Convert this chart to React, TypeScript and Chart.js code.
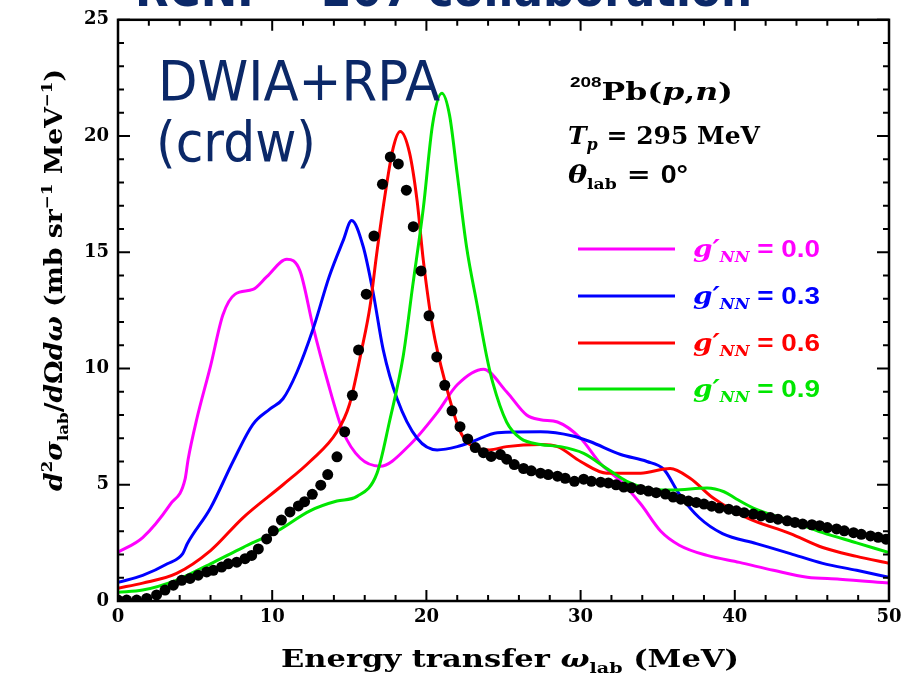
import React, { useEffect, useRef } from 'react';
import { Chart, registerables } from 'chart.js';

Chart.register(...registerables);

// ---- data ----
const g0X = [0, 1.6, 3.4, 4.35, 4.55, 5.1, 6.0, 6.8, 7.6, 8.75, 9.65, 10.95, 11.8, 12.65, 13.55, 14.6, 15.7, 17.0, 18.9, 20.7, 22.0, 23.7, 25.2, 26.5, 27.4, 28.5, 30.0, 31.3, 32.6, 33.9, 35.2, 36.4, 38.2, 40.3, 42.5, 44.7, 46.8, 50];
const g0Y = [2.1, 2.73, 4.17, 5.24, 6.1, 7.8, 10.1, 12.3, 13.2, 13.4, 13.95, 14.7, 14.2, 11.8, 9.55, 7.28, 6.15, 5.8, 6.7, 8.1, 9.3, 9.97, 9.0, 8.0, 7.8, 7.7, 7.0, 5.9, 5.15, 4.17, 3.0, 2.4, 1.96, 1.66, 1.32, 1.02, 0.94, 0.77];

const g3X = [0, 1.6, 3.2, 4.2, 4.5, 6.0, 7.46, 8.75, 9.86, 10.7, 11.6, 12.65, 13.7, 14.6, 15.15, 15.9, 16.55, 17.2, 18.1, 19.4, 20.7, 22.0, 23.0, 24.6, 27.4, 29.5, 30.6, 32.6, 34.3, 35.4, 36.4, 37.7, 39.2, 41.4, 43.6, 45.7, 47.9, 50];
const g3Y = [0.8, 1.1, 1.6, 2.04, 2.47, 4.0, 6.0, 7.6, 8.26, 8.7, 9.84, 11.7, 13.96, 15.5, 16.37, 15.25, 13.25, 10.8, 8.7, 7.0, 6.5, 6.64, 6.86, 7.24, 7.28, 7.1, 6.86, 6.3, 6.0, 5.66, 4.6, 3.58, 2.9, 2.47, 2.04, 1.62, 1.32, 1.02];

const g6X = [0, 1.6, 3.8, 6.0, 8.1, 10.7, 12.45, 14.2, 15.0, 15.8, 16.35, 16.75, 17.2, 17.85, 18.3, 18.9, 19.4, 19.8, 20.4, 21.3, 22.2, 23.3, 24.1, 25.2, 27.4, 28.5, 30.0, 31.7, 33.9, 35.8, 37.1, 38.6, 40.8, 43.6, 45.7, 47.9, 50];
const g6Y = [0.55, 0.77, 1.19, 2.17, 3.58, 5.0, 6.0, 7.28, 8.43, 10.8, 12.7, 14.8, 16.95, 19.5, 20.2, 19.3, 17.2, 14.65, 11.8, 9.2, 7.28, 6.56, 6.5, 6.64, 6.73, 6.64, 6.0, 5.5, 5.5, 5.7, 5.28, 4.43, 3.58, 2.9, 2.3, 1.92, 1.62];

const g9X = [0, 1.6, 3.8, 6.0, 8.1, 10.3, 12.45, 14.2, 15.5, 16.8, 17.6, 18.5, 19.1, 19.8, 20.4, 21.0, 21.5, 22.0, 22.6, 23.3, 23.9, 24.3, 25.2, 26.1, 27.4, 28.7, 30.2, 31.7, 33.0, 34.7, 36.0, 38.2, 39.3, 40.1, 41.2, 43.6, 45.7, 47.9, 50];
const g9Y = [0.38, 0.47, 0.9, 1.6, 2.3, 3.0, 3.88, 4.3, 4.5, 5.5, 7.7, 10.55, 13.5, 16.9, 20.5, 21.84, 20.9, 18.36, 15.25, 12.7, 10.55, 9.4, 7.7, 7.0, 6.73, 6.64, 6.35, 5.7, 5.15, 4.8, 4.77, 4.86, 4.7, 4.39, 4.0, 3.45, 2.94, 2.5, 2.08];

const expX = [0.0, 0.56, 1.21, 1.86, 2.5, 3.05, 3.59, 4.13, 4.67, 5.2, 5.75, 6.18, 6.72, 7.15, 7.7, 8.24, 8.67, 9.1, 9.64, 10.07, 10.6, 11.15, 11.7, 12.1, 12.6, 13.15, 13.6, 14.2, 14.7, 15.2, 15.6, 16.1, 16.6, 17.15, 17.66, 18.18, 18.7, 19.15, 19.65, 20.17, 20.67, 21.19, 21.66, 22.18, 22.68, 23.17, 23.7, 24.2, 24.8, 25.2, 25.7, 26.3, 26.8, 27.4, 27.9, 28.5, 29.0, 29.6, 30.2, 30.7, 31.3, 31.8, 32.3, 32.8, 33.3, 33.9, 34.4, 34.9, 35.5, 36.0, 36.5, 37.0, 37.5, 38.0, 38.5, 39.0, 39.6, 40.1, 40.6, 41.2, 41.7, 42.3, 42.8, 43.4, 43.9, 44.4, 45.0, 45.5, 46.0, 46.6, 47.1, 47.7, 48.2, 48.8, 49.3, 49.8];
const expY = [0.04, 0.04, 0.04, 0.11, 0.26, 0.47, 0.68, 0.89, 0.97, 1.11, 1.25, 1.32, 1.46, 1.6, 1.67, 1.82, 1.96, 2.24, 2.67, 3.02, 3.48, 3.83, 4.09, 4.27, 4.59, 4.98, 5.44, 6.2, 7.28, 8.85, 10.8, 13.2, 15.7, 17.93, 19.1, 18.8, 17.67, 16.1, 14.2, 12.27, 10.5, 9.28, 8.18, 7.5, 6.97, 6.6, 6.38, 6.22, 6.3, 6.1, 5.87, 5.7, 5.6, 5.5, 5.44, 5.37, 5.28, 5.15, 5.24, 5.15, 5.11, 5.08, 5.0, 4.9, 4.87, 4.8, 4.73, 4.66, 4.6, 4.47, 4.38, 4.3, 4.24, 4.17, 4.08, 4.0, 3.95, 3.88, 3.8, 3.74, 3.66, 3.59, 3.52, 3.45, 3.38, 3.31, 3.28, 3.24, 3.16, 3.1, 3.02, 2.94, 2.87, 2.8, 2.74, 2.66];

const seriesLabels = ['0.0', '0.3', '0.6', '0.9'];
const seriesColors = ['#ff00ff', '#0000ff', '#ff0000', '#00e600'];

const X_MIN = 0, X_MAX = 50, X_MAJOR = 10, X_MINOR = 2;
const Y_MIN = 0, Y_MAX = 25, Y_MAJOR = 5, Y_MINOR = 1;

const NAVY = '#0b2868';
const SERIF = '"DejaVu Serif", serif';
const SANS = '"Liberation Sans", Arial, sans-serif';

const pts = (xs: number[], ys: number[]) => xs.map((x, i) => ({ x, y: ys[i] }));

type Seg = { t: string; f: string; dy?: number; c?: string };

function richWidth(ctx: CanvasRenderingContext2D, segs: Seg[]) {
  let w = 0;
  for (const s of segs) { ctx.font = s.f; w += ctx.measureText(s.t).width; }
  return w;
}

function drawRich(ctx: CanvasRenderingContext2D, segs: Seg[], x: number, y: number, color: string, align: 'left' | 'center' = 'left', targetW?: number) {
  const w = richWidth(ctx, segs);
  const sx = targetW ? targetW / w : 1;
  ctx.save();
  ctx.translate(x, y);
  ctx.scale(sx, 1);
  let cx = align === 'center' ? -w / 2 : 0;
  ctx.textBaseline = 'alphabetic';
  ctx.textAlign = 'left';
  for (const s of segs) {
    ctx.font = s.f;
    ctx.fillStyle = s.c || color;
    ctx.fillText(s.t, cx, s.dy || 0);
    cx += ctx.measureText(s.t).width;
  }
  ctx.restore();
}

const decorPlugin = {
  id: 'decor',
  afterDraw(chart: any) {
    const ctx: CanvasRenderingContext2D = chart.ctx;
    const { left, right, top, bottom } = chart.chartArea;
    const xs = chart.scales.x;
    const ys = chart.scales.y;
    ctx.save();
    // frame
    ctx.strokeStyle = '#000';
    ctx.lineWidth = 2.5;
    ctx.strokeRect(left, top, right - left, bottom - top);
    // inward ticks
    ctx.lineWidth = 2;
    ctx.beginPath();
    for (let v = X_MIN; v <= X_MAX + 1e-9; v += X_MINOR) {
      const px = xs.getPixelForValue(v);
      const len = Math.abs(v % X_MAJOR) < 1e-9 ? 11 : 6;
      ctx.moveTo(px, bottom); ctx.lineTo(px, bottom - len);
      ctx.moveTo(px, top); ctx.lineTo(px, top + len);
    }
    for (let v = Y_MIN; v <= Y_MAX + 1e-9; v += Y_MINOR) {
      const py = ys.getPixelForValue(v);
      const len = Math.abs(v % Y_MAJOR) < 1e-9 ? 12 : 6;
      ctx.moveTo(left, py); ctx.lineTo(left + len, py);
      ctx.moveTo(right, py); ctx.lineTo(right - len, py);
    }
    ctx.stroke();

    // x axis title
    const B = (s: number) => `bold ${s}px ${SERIF}`;
    const BI = (s: number) => `italic bold ${s}px ${SERIF}`;
    drawRich(ctx, [
      { t: 'Energy transfer ', f: B(24) },
      { t: 'ω', f: BI(24) },
      { t: 'lab', f: B(15), dy: 6 },
      { t: ' (MeV)', f: B(24) },
    ], 510, 667, '#000', 'center', 458);

    // y axis title
    ctx.save();
    ctx.translate(62, 280);
    ctx.rotate(-Math.PI / 2);
    drawRich(ctx, [
      { t: 'd', f: BI(24) },
      { t: '2', f: B(15), dy: -10 },
      { t: 'σ', f: BI(24) },
      { t: 'lab', f: B(15), dy: 6 },
      { t: '/', f: B(24) },
      { t: 'd', f: BI(24) },
      { t: 'Ω', f: B(24) },
      { t: 'dω', f: BI(24) },
      { t: ' (mb sr', f: B(24) },
      { t: '−1', f: B(15), dy: -10 },
      { t: ' MeV', f: B(24) },
      { t: '−1', f: B(15), dy: -10 },
      { t: ')', f: B(24) },
    ], 0, 0, '#000', 'center', 422);
    ctx.restore();

    // annotation block
    drawRich(ctx, [
      { t: '208', f: `bold 15px ${SANS}`, dy: -13 },
      { t: 'Pb(', f: B(25) },
      { t: 'p', f: BI(25) },
      { t: ',', f: B(25) },
      { t: 'n', f: BI(25) },
      { t: ')', f: B(25) },
    ], 570, 100, '#000', 'left', 163);
    drawRich(ctx, [
      { t: 'T', f: BI(25) },
      { t: 'p', f: BI(16), dy: 6 },
      { t: ' = 295 MeV', f: B(25) },
    ], 568, 144, '#000', 'left', 192);
    drawRich(ctx, [
      { t: 'θ', f: BI(25) },
      { t: 'lab', f: B(15), dy: 6 },
      { t: ' = ', f: B(25) },
      { t: '0°', f: `bold 25px ${SANS}` },
    ], 568, 183, '#000', 'left', 120);

    // legend
    const legendY = [249, 296, 343, 389];
    seriesLabels.forEach((lab, i) => {
      const y = legendY[i];
      ctx.strokeStyle = seriesColors[i];
      ctx.lineWidth = 3;
      ctx.beginPath();
      ctx.moveTo(578, y); ctx.lineTo(675, y);
      ctx.stroke();
      drawRich(ctx, [
        { t: "g′", f: BI(24) },
        { t: 'NN', f: BI(14), dy: 5 },
        { t: ' = ' + lab, f: `bold 24px ${SANS}` },
      ], 693, y + 8, seriesColors[i], 'left', 127);
    });

    // big navy texts
    ctx.fillStyle = NAVY;
    ctx.textAlign = 'left';
    ctx.textBaseline = 'alphabetic';
    ctx.font = `55px "DejaVu Sans", sans-serif`;
    ctx.fillText('DWIA+RPA', 158, 100, 282);
    ctx.fillText('(crdw)', 156, 161, 160);
    ctx.font = `bold 48px "DejaVu Sans", sans-serif`;
    ctx.fillText('RCNP – 207 collaboration', 135, 6, 617);
    ctx.restore();
  },
};

export default function App() {
  const ref = useRef<HTMLCanvasElement>(null);
  useEffect(() => {
    document.body.style.margin = '0';
    const canvas = ref.current!;
    const lineDs = (xs: number[], ys: number[], i: number, order: number) => ({
      label: seriesLabels[i],
      data: pts(xs, ys),
      showLine: true,
      borderColor: seriesColors[i],
      backgroundColor: seriesColors[i],
      borderWidth: 3,
      pointRadius: 0,
      cubicInterpolationMode: 'monotone' as const,
      order,
    });
    const tickFont = { family: SERIF, weight: 'bold', size: 18 };
    const chart = new Chart(canvas, {
      type: 'scatter',
      data: {
        datasets: [
          {
            label: 'data',
            data: pts(expX, expY),
            showLine: false,
            pointRadius: 5.5,
            pointBackgroundColor: '#000',
            pointBorderColor: '#000',
            pointBorderWidth: 0,
            order: 0,
          } as any,
          lineDs(g9X, g9Y, 3, 1),
          lineDs(g6X, g6Y, 2, 2),
          lineDs(g3X, g3Y, 1, 3),
          lineDs(g0X, g0Y, 0, 4),
        ],
      },
      options: {
        responsive: false,
        animation: false,
        devicePixelRatio: 1,
        layout: { padding: { left: 0, top: 14, right: 23, bottom: 0 } },
        plugins: { legend: { display: false }, tooltip: { enabled: false } },
        events: [],
        scales: {
          x: {
            type: 'linear',
            min: X_MIN, max: X_MAX,
            grid: { display: false, drawTicks: false },
            border: { display: false },
            ticks: { stepSize: X_MAJOR, padding: 6, color: '#000', font: tickFont },
            afterFit: (s: any) => { s.height = 78; },
          },
          y: {
            type: 'linear',
            min: Y_MIN, max: Y_MAX,
            grid: { display: false, drawTicks: false },
            border: { display: false },
            ticks: { stepSize: Y_MAJOR, padding: 9, color: '#000', font: tickFont },
            afterFit: (s: any) => { s.width = 118; },
          },
        },
      } as any,
      plugins: [decorPlugin],
    });
    return () => chart.destroy();
  }, []);
  return (
    <div style={{ width: 912, height: 679, background: '#fff' }}>
      <canvas ref={ref} width={912} height={679} />
    </div>
  );
}
